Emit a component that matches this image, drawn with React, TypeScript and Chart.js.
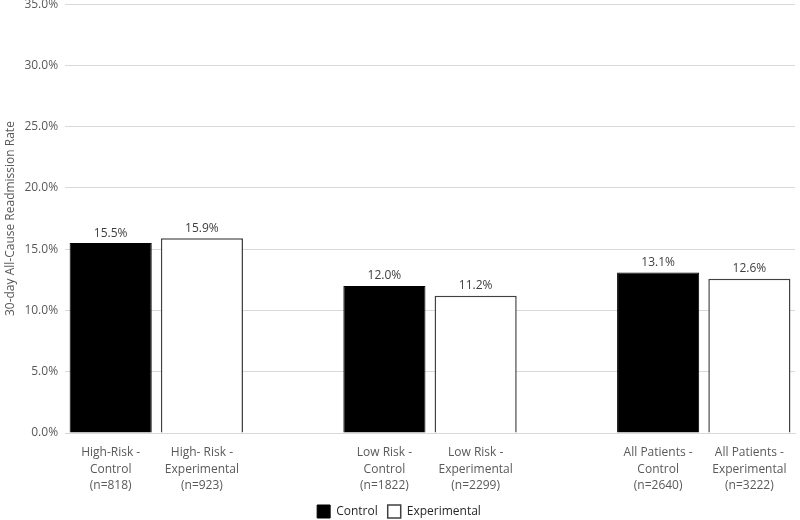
import React, { useEffect, useRef } from "react";
import { Chart, registerables } from "chart.js";

Chart.register(...registerables);

const categories: string[][] = [
  ["High-Risk -", "Control", "(n=818)"],
  ["High- Risk -", "Experimental", "(n=923)"],
  [""],
  ["Low Risk -", "Control", "(n=1822)"],
  ["Low Risk -", "Experimental", "(n=2299)"],
  [""],
  ["All Patients -", "Control", "(n=2640)"],
  ["All Patients -", "Experimental", "(n=3222)"],
];

const controlValues: (number | null)[] = [15.5, null, null, 12.0, null, null, 13.1, null];
const experimentalValues: (number | null)[] = [null, 15.9, null, null, 11.2, null, null, 12.6];

const yTicks: number[] = [0, 5, 10, 15, 20, 25, 30, 35];

const FONT = "'Open Sans', 'Noto Sans', sans-serif";

const valueLabels = {
  id: "valueLabels",
  afterDatasetsDraw(chart: any) {
    const ctx = chart.ctx;
    ctx.save();
    ctx.font = `12px ${FONT}`;
    ctx.fillStyle = "#404040";
    ctx.textAlign = "center";
    ctx.textBaseline = "bottom";
    chart.data.datasets.forEach((ds: any, di: number) => {
      const meta = chart.getDatasetMeta(di);
      meta.data.forEach((el: any, i: number) => {
        const v = ds.data[i];
        if (v === null || v === undefined) return;
        ctx.fillText(v.toFixed(1) + "%", el.x, el.y - 4);
      });
    });
    ctx.restore();
  },
};

export default function App() {
  const ref = useRef<HTMLCanvasElement | null>(null);
  useEffect(() => {
    if (!ref.current) return;
    const chart = new Chart(ref.current, {
      type: "bar",
      data: {
        labels: categories as any,
        datasets: [
          {
            label: "Control",
            data: controlValues,
            backgroundColor: "#000000",
            borderColor: "#000000",
            borderWidth: 1,
            barPercentage: 0.9,
            categoryPercentage: 1,
          },
          {
            label: "Experimental",
            data: experimentalValues,
            backgroundColor: "#ffffff",
            borderColor: "#404040",
            borderWidth: 1.5,
            barPercentage: 0.9,
            categoryPercentage: 1,
          },
        ],
      },
      options: {
        animation: false,
        responsive: false,
        maintainAspectRatio: false,
        layout: { padding: { top: 0, right: 5, left: 3, bottom: 0 } },
        plugins: {
          legend: {
            position: "bottom",
            labels: {
              boxWidth: 13,
              boxHeight: 13,
              padding: 10,
              color: "#262626",
              font: { family: FONT, size: 12 },
            },
          },
          tooltip: { enabled: false },
        },
        scales: {
          x: {
            stacked: true,
            grid: { display: false, drawTicks: false },
            border: { color: "#d9d9d9" },
            afterFit: (axis: any) => {
              axis.height = 62;
            },
            ticks: {
              color: "#595959",
              font: { family: FONT, size: 12, lineHeight: 1.4 },
              maxRotation: 0,
              autoSkip: false,
              padding: 11,
            },
          },
          y: {
            stacked: false,
            min: 0,
            max: 35,
            afterBuildTicks: (axis: any) => {
              axis.ticks = yTicks.map((v) => ({ value: v }));
            },
            grid: { color: "#d9d9d9", drawTicks: false },
            border: { display: false },
            ticks: {
              color: "#595959",
              font: { family: FONT, size: 12 },
              padding: 7,
              callback: (v: any) => Number(v).toFixed(1) + "%",
            },
            title: {
              display: true,
              text: "30-day All-Cause Readmission Rate",
              color: "#595959",
              font: { family: FONT, size: 12 },
              padding: { top: 0, bottom: 0 },
            },
          },
        },
      },
      plugins: [valueLabels],
    });
    return () => chart.destroy();
  }, []);
  return (
    <div style={{ position: "fixed", left: 0, top: 0, width: 800, height: 520, background: "#fff", overflow: "hidden" }}>
      <canvas
        ref={ref}
        width={800}
        height={538}
        style={{ position: "absolute", left: 0, top: -10, width: 800, height: 538 }}
      />
    </div>
  );
}
